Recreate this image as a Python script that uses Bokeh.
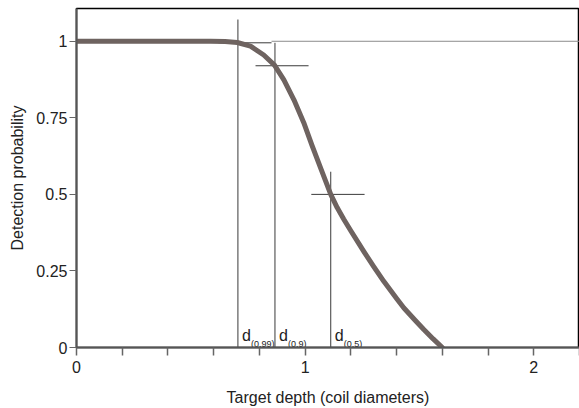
from bokeh.plotting import figure
from bokeh.models import FixedTicker, Range1d, ColumnDataSource
from bokeh.core.properties import value
from bokeh.embed import file_html
from bokeh.resources import INLINE

# Detection probability curve
depth = [0.0, 0.586, 0.65, 0.703, 0.761, 0.819, 0.866, 0.907, 0.951, 0.994, 1.03,
         1.07, 1.112, 1.14, 1.169, 1.199, 1.257, 1.30, 1.344, 1.40, 1.432, 1.48,
         1.519, 1.56, 1.60]
prob = [1.0, 1.0, 0.999, 0.996, 0.984, 0.955, 0.922, 0.874, 0.809, 0.734, 0.66,
        0.582, 0.50, 0.457, 0.419, 0.382, 0.313, 0.264, 0.216, 0.16, 0.129, 0.09,
        0.059, 0.028, 0.0]

# Marked depths d(p)
d_names = ["(0.99)", "(0.9)", "(0.5)"]
d_x = [0.706, 0.868, 1.112]
d_top = [1.071, 0.995, 0.574]
cross_y = [0.995, 0.92, 0.50]
cross_x0 = [0.621, 0.783, 1.027]
cross_x1 = [0.853, 1.015, 1.260]

x_ticks = [0, 1, 2]
x_minor = [0.2, 0.4, 0.6, 0.8, 1.2, 1.4, 1.6, 1.8, 2.2]
y_ticks = [0, 0.25, 0.5, 0.75, 1]
y_tick_labels = ["0", "0.25", "0.5", "0.75", "1"]

FONT = "Liberation Sans"

p = figure(width=579, height=408, output_backend="svg", toolbar_location=None,
           x_range=Range1d(0, 2.2), y_range=Range1d(0, 1.107),
           min_border_left=76, min_border_right=0, min_border_top=8, min_border_bottom=58)
p.grid.visible = False
p.background_fill_color = "white"
p.border_fill_color = "white"
p.outline_line_color = "black"
p.outline_line_width = 1.5

# reference line at probability 1
p.segment(x0=[cross_x1[0]], y0=[1.0], x1=[2.2], y1=[1.0], line_color="#8c8c8c", line_width=1)

# vertical lines and crosshairs
src = ColumnDataSource(dict(x=d_x, top=d_top, cy=cross_y, cx0=cross_x0, cx1=cross_x1,
                            base=[0.0] * len(d_x), name=d_names,
                            d=["d"] * len(d_x)))
p.segment(x0="x", y0="base", x1="x", y1="top", source=src, line_color="#3a3a3a", line_width=1)
p.segment(x0="cx0", y0="cy", x1="cx1", y1="cy", source=src, line_color="#3a3a3a", line_width=1)

# curve
p.line(depth, prob, line_color="#6e6360", line_width=5, line_join="round", line_cap="round")

# labels d(p)
p.text(x="x", y=0.039, text="d", source=src, x_offset=4, text_font=value(FONT),
       text_font_size="16px", text_color="#222222", text_baseline="alphabetic")
p.text(x="x", y=0.010, text="name", source=src, x_offset=13, text_font=value(FONT),
       text_font_size="9px", text_color="#222222", text_baseline="alphabetic")

# axes
xa = p.xaxis[0]
xa.ticker = FixedTicker(ticks=x_ticks, minor_ticks=x_minor)
xa.axis_label = "Target depth (coil diameters)"
xa.axis_line_color = "#555555"
xa.axis_line_width = 2
xa.major_tick_line_color = "#666666"
xa.minor_tick_line_color = "#666666"
xa.major_tick_line_width = 1.5
xa.minor_tick_line_width = 1.5
xa.major_tick_out = 8
xa.major_tick_in = 0
xa.minor_tick_out = 8
xa.minor_tick_in = 0
xa.major_label_standoff = 5
xa.axis_label_standoff = 13

ya = p.yaxis[0]
ya.ticker = FixedTicker(ticks=y_ticks, minor_ticks=[])
ya.major_label_overrides = {t: l for t, l in zip(y_ticks, y_tick_labels)}
ya.axis_label = "Detection probability"
ya.axis_line_color = "#555555"
ya.axis_line_width = 2
ya.major_tick_line_color = "#666666"
ya.major_tick_out = 7
ya.major_tick_in = 0
ya.major_label_standoff = 2
ya.axis_label_standoff = 7

for ax in (xa, ya):
    ax.major_label_text_font = FONT
    ax.major_label_text_font_size = "16px"
    ax.major_label_text_color = "#222222"
    ax.axis_label_text_font = FONT
    ax.axis_label_text_font_size = "16px"
    ax.axis_label_text_font_style = "normal"
    ax.axis_label_text_color = "#222222"

open("out.html", "w").write(file_html(p, INLINE))
